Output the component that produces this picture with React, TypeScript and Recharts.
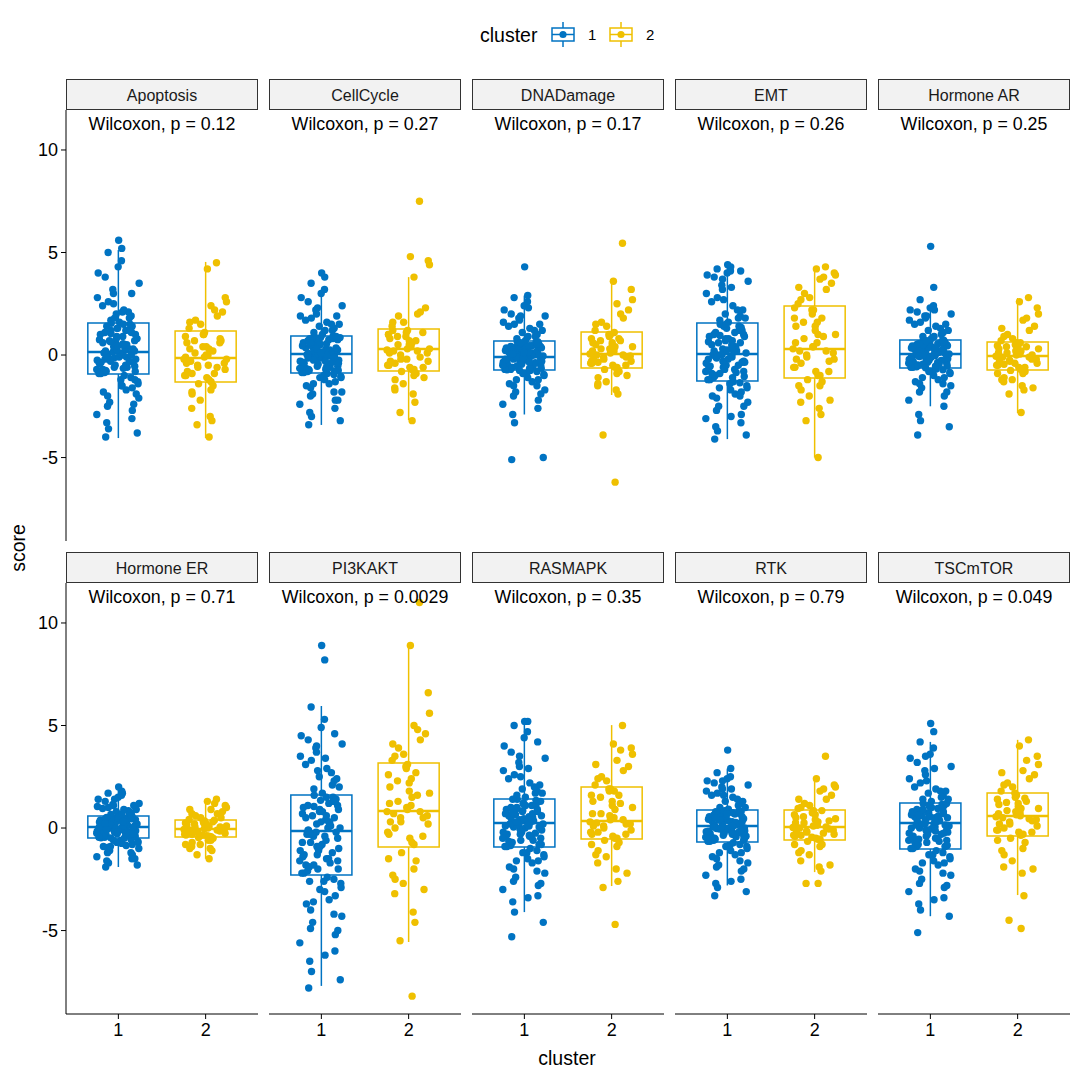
import { ScatterChart, Scatter, XAxis, YAxis, ReferenceArea, ReferenceLine } from "recharts";

const BLUE = "#0073C2";
const GOLD = "#EFC000";
const FONT = "'Liberation Sans', Arial, Helvetica, sans-serif";

const pathways = ["Apoptosis", "CellCycle", "DNADamage", "EMT", "Hormone AR", "Hormone ER", "PI3KAKT", "RASMAPK", "RTK", "TSCmTOR"];
const pValues = ["0.12", "0.27", "0.17", "0.26", "0.25", "0.71", "0.0029", "0.35", "0.79", "0.049"];
const clusters = [1, 2];
const yTicks = [-5, 0, 5, 10];

// [lower whisker, q1, median, q3, upper whisker]
const boxCluster1 = [
  [-4.05, -0.93, 0.15, 1.56, 5.12],
  [-3.41, -0.88, 0.05, 0.93, 3.17],
  [-2.9, -0.73, -0.1, 0.68, 2.9],
  [-4.1, -1.27, 0.05, 1.56, 4.4],
  [-2.5, -0.63, 0.05, 0.73, 2.4],
  [-1.9, -0.49, 0.05, 0.59, 2.0],
  [-7.7, -2.29, -0.15, 1.61, 5.95],
  [-4.1, -0.93, 0.24, 1.41, 5.2],
  [-2.8, -0.68, 0.1, 0.88, 2.9],
  [-4.3, -1.02, 0.24, 1.22, 4.2],
];
const boxCluster2 = [
  [-4.05, -1.32, -0.15, 1.17, 4.54],
  [-3.17, -0.78, 0.29, 1.27, 3.8],
  [-1.95, -0.63, 0.05, 1.12, 3.56],
  [-5.0, -1.12, 0.29, 2.39, 4.3],
  [-2.83, -0.73, -0.05, 0.63, 2.78],
  [-1.5, -0.44, -0.05, 0.39, 1.4],
  [-5.56, -0.93, 0.83, 3.17, 8.88],
  [-2.83, -0.54, 0.34, 2.0, 5.02],
  [-2.15, -0.59, 0.05, 0.88, 2.39],
  [-3.27, -0.39, 0.59, 1.71, 4.3],
];

const apoptosis1 = [-4.0, -3.8, -3.6, -3.3, -3.1, -2.9, -2.7, -2.5, -2.3, -2.1, -2.0, -1.8, -1.7, -1.6, -1.5, -1.4, -1.3, -1.2, -1.1, -1.0,
  -0.9, -0.85, -0.8, -0.75, -0.7, -0.6, -0.55, -0.5, -0.4, -0.35, -0.3, -0.25, -0.2, -0.15, -0.1, -0.05, 0, 0.05, 0.1, 0.15,
  0.2, 0.3, 0.35, 0.4, 0.5, 0.55, 0.6, 0.7, 0.75, 0.8, 0.9, 1.0, 1.05, 1.1, 1.2, 1.25, 1.3, 1.4, 1.5, 1.55,
  1.6, 1.7, 1.8, 1.9, 2.0, 2.1, 2.2, 2.4, 2.6, 2.8, 3.0, 3.2, 3.5, 3.8, 4.0, 4.3, 4.6, 5.0, 5.2, 5.6,
  -0.9, -0.8, -0.7, -0.6, -0.5, -0.4, -0.3, -0.2, -0.1, 0, 0.1, 0.2, 0.3, 0.4, 0.5, 0.6, 0.7, 0.8, 0.9, 1.0,
  1.1, 1.2, 1.3, 1.4, 1.5, -0.65, -0.15, 0.25, 0.65, 1.15, -1.2, -1.5, -1.9, -2.4, 1.8, 2.1, 2.5, 3.0, -0.35, 0.45];
const apoptosis2 = [-4.0, -3.4, -3.2, -3.0, -2.6, -2.2, -1.9, -1.7, -1.5, -1.4, -1.3, -1.1, -1.0, -0.9, -0.7, -0.6, -0.5, -0.4, -0.3, -0.2,
  -0.1, 0.0, 0.1, 0.3, 0.4, 0.6, 0.7, 0.9, 1.0, 1.1, 1.3, 1.5, 1.7, 1.9, 2.1, 2.4, 2.6, 2.8, 4.2, 4.5,
  -1.2, -1.0, -0.8, -0.6, -0.4, -0.2, 0, 0.2, 0.4, 0.6, 0.8, 1.0, -0.9, -0.5, -0.1, 0.3, 0.7, -1.8, 1.6, 2.2];

const cellCycle1 = [-3.4, -3.2, -3.0, -2.8, -2.6, -2.4, -2.2, -2.0, -1.9, -1.8, -1.6, -1.5, -1.4, -1.3, -1.2, -1.1, -1.05, -1.0, -0.95, -0.9,
  -0.85, -0.8, -0.75, -0.7, -0.65, -0.6, -0.55, -0.5, -0.45, -0.4, -0.35, -0.3, -0.25, -0.2, -0.15, -0.1, -0.05, 0, 0.02, 0.05,
  0.08, 0.1, 0.15, 0.2, 0.25, 0.3, 0.35, 0.4, 0.45, 0.5, 0.55, 0.6, 0.65, 0.7, 0.75, 0.8, 0.85, 0.88, 0.9, 0.92,
  1.0, 1.1, 1.2, 1.3, 1.4, 1.5, 1.6, 1.7, 1.8, 1.9, 2.0, 2.2, 2.4, 2.6, 2.8, 3.0, 3.2, 3.5, 3.8, 4.0,
  -0.85, -0.75, -0.65, -0.55, -0.45, -0.35, -0.25, -0.15, -0.05, 0.05, 0.15, 0.25, 0.35, 0.45, 0.55, 0.65, 0.75, 0.85, -0.7, -0.4,
  -0.1, 0.2, 0.5, 0.8, -0.6, 0, 0.6, -1.1, -1.4, -1.8, -2.2, 1.2, 1.5, 1.9, 2.3, -0.3, 0.3, -0.8, 0.9, 0.1];
const cellCycle2 = [-3.2, -2.8, -2.3, -1.9, -1.6, -1.4, -1.2, -1.0, -0.9, -0.8, -0.7, -0.6, -0.5, -0.4, -0.3, -0.2, 0.0, 0.1, 0.2, 0.25,
  0.3, 0.4, 0.5, 0.6, 0.7, 0.8, 0.9, 1.0, 1.1, 1.2, 1.4, 1.6, 1.9, 2.1, 2.3, 3.8, 4.4, 4.6, 4.8, 7.5,
  -0.7, -0.5, -0.3, -0.1, 0.1, 0.3, 0.5, 0.7, 0.9, 1.1, -0.6, -0.2, 0.2, 0.6, 1.0, 1.2, -1.1, -1.7, 1.6, 2.0];

const dnaDamage1 = [-5.1, -5.0, -3.3, -2.9, -2.6, -2.4, -2.2, -2.0, -1.8, -1.7, -1.5, -1.4, -1.3, -1.2, -1.1, -1.0, -0.95, -0.9, -0.8, -0.75,
  -0.72, -0.7, -0.65, -0.6, -0.58, -0.55, -0.5, -0.48, -0.45, -0.4, -0.38, -0.35, -0.3, -0.28, -0.25, -0.2, -0.18, -0.15, -0.12, -0.1,
  -0.08, -0.05, 0, 0.05, 0.08, 0.1, 0.15, 0.2, 0.22, 0.25, 0.3, 0.35, 0.4, 0.42, 0.45, 0.5, 0.55, 0.6, 0.62, 0.66,
  0.7, 0.8, 0.9, 1.0, 1.1, 1.2, 1.3, 1.4, 1.5, 1.6, 1.7, 1.8, 1.9, 2.0, 2.2, 2.4, 2.6, 2.8, 2.9, 4.3,
  -0.7, -0.6, -0.5, -0.4, -0.3, -0.2, -0.1, 0, 0.1, 0.2, 0.3, 0.4, 0.5, 0.6, -0.65, -0.45, -0.25, -0.05, 0.15, 0.35,
  0.55, -0.55, -0.15, 0.25, 0.45, -0.35, 0.05, -0.9, -1.2, -1.5, -1.9, 0.9, 1.2, 1.5, 1.9, 2.3, -0.75, 0.65, -0.02, 0.12];
const dnaDamage2 = [-6.2, -3.9, -1.9, -1.7, -1.5, -1.3, -1.1, -0.9, -0.8, -0.7, -0.6, -0.5, -0.4, -0.35, -0.3, -0.2, -0.1, -0.05, 0, 0.05,
  0.1, 0.2, 0.3, 0.4, 0.5, 0.6, 0.7, 0.8, 0.9, 1.0, 1.2, 1.4, 1.6, 1.8, 2.2, 2.5, 2.7, 3.2, 3.6, 5.45,
  -0.6, -0.4, -0.2, 0, 0.2, 0.4, 0.6, 0.8, 1.0, -0.5, -0.1, 0.3, 0.7, 1.1, -0.3, 0.5, -1.0, -1.4, 1.5, 2.0];

const emt1 = [-4.1, -3.9, -3.7, -3.5, -3.3, -3.1, -2.9, -2.7, -2.5, -2.3, -2.1, -2.0, -1.9, -1.8, -1.7, -1.6, -1.5, -1.4, -1.35, -1.3,
  -1.2, -1.1, -1.05, -1.0, -0.9, -0.85, -0.8, -0.7, -0.6, -0.55, -0.5, -0.4, -0.35, -0.3, -0.2, -0.15, -0.1, -0.05, 0, 0.03,
  0.1, 0.15, 0.2, 0.3, 0.35, 0.4, 0.5, 0.6, 0.65, 0.7, 0.8, 0.9, 0.95, 1.0, 1.1, 1.2, 1.3, 1.35, 1.4, 1.5,
  1.6, 1.7, 1.8, 1.9, 2.0, 2.2, 2.4, 2.6, 2.8, 3.0, 3.2, 3.4, 3.6, 3.8, 3.9, 4.0, 4.1, 4.2, 4.3, 4.4,
  -1.2, -1.0, -0.8, -0.6, -0.4, -0.2, 0, 0.2, 0.4, 0.6, 0.8, 1.0, 1.2, 1.4, -1.1, -0.7, -0.3, 0.1, 0.5, 0.9,
  1.3, -0.9, -0.5, -0.1, 0.3, 0.7, 1.1, 1.5, -1.6, -2.0, -2.5, -3.0, 1.8, 2.2, 2.7, 3.3, 3.7, 4.1, -0.35, 0.25];
const emt2 = [-5.0, -3.2, -2.9, -2.6, -2.3, -2.0, -1.7, -1.5, -1.3, -1.2, -1.0, -0.8, -0.6, -0.4, -0.2, -0.1, 0.0, 0.1, 0.2, 0.3,
  0.4, 0.6, 0.8, 1.0, 1.2, 1.4, 1.6, 1.8, 2.0, 2.2, 2.5, 2.8, 3.0, 3.2, 3.5, 3.7, 3.9, 4.0, 4.2, 4.3,
  -1.0, -0.6, -0.2, 0.2, 0.6, 1.0, 1.4, 1.8, 2.2, -0.8, -0.3, 0.4, 0.9, 1.6, 2.3, -1.5, -2.2, 2.7, 3.3, 3.8];

const hormoneAR1 = [-3.9, -3.5, -3.2, -2.9, -2.5, -2.2, -2.0, -1.8, -1.6, -1.5, -1.4, -1.3, -1.2, -1.1, -1.0, -0.9, -0.85, -0.8, -0.72, -0.68,
  -0.6, -0.57, -0.54, -0.5, -0.47, -0.44, -0.4, -0.36, -0.33, -0.3, -0.26, -0.22, -0.18, -0.15, -0.11, -0.07, -0.03, 0, 0.02, 0.04,
  0.07, 0.1, 0.13, 0.17, 0.2, 0.23, 0.27, 0.3, 0.34, 0.37, 0.4, 0.44, 0.48, 0.51, 0.55, 0.58, 0.62, 0.65, 0.68, 0.71,
  0.8, 0.9, 1.0, 1.1, 1.2, 1.3, 1.4, 1.5, 1.6, 1.7, 1.8, 1.9, 2.0, 2.1, 2.2, 2.3, 2.4, 2.7, 3.3, 5.3,
  -0.6, -0.5, -0.4, -0.3, -0.2, -0.1, 0, 0.1, 0.2, 0.3, 0.4, 0.5, 0.6, 0.7, -0.55, -0.35, -0.15, 0.05, 0.25, 0.45,
  0.65, -0.45, -0.25, -0.05, 0.15, 0.35, 0.55, -0.8, -1.1, -1.4, -1.8, 0.9, 1.2, 1.5, 1.9, 2.2, -0.62, 0.72, 0.08, -0.12];
const hormoneAR2 = [-2.8, -1.9, -1.7, -1.5, -1.3, -1.2, -1.1, -0.9, -0.8, -0.75, -0.7, -0.6, -0.5, -0.45, -0.4, -0.3, -0.25, -0.2, -0.1, -0.06,
  0, 0.05, 0.1, 0.2, 0.25, 0.3, 0.4, 0.45, 0.5, 0.6, 0.7, 0.8, 1.0, 1.2, 1.4, 1.7, 2.0, 2.3, 2.6, 2.8,
  -0.7, -0.5, -0.3, -0.1, 0.1, 0.3, 0.5, -0.6, -0.4, -0.2, 0, 0.2, 0.4, 0.6, -0.9, -1.2, -1.6, 0.9, 1.3, 1.8];

const hormoneER1 = [-1.9, -1.8, -1.7, -1.6, -1.5, -1.4, -1.3, -1.2, -1.1, -1.0, -0.95, -0.9, -0.85, -0.8, -0.75, -0.7, -0.65, -0.6, -0.55, -0.5,
  -0.48, -0.45, -0.42, -0.4, -0.37, -0.34, -0.31, -0.28, -0.25, -0.22, -0.19, -0.16, -0.13, -0.1, -0.07, -0.04, -0.02, 0, 0.02, 0.04,
  0.07, 0.1, 0.12, 0.15, 0.18, 0.2, 0.23, 0.26, 0.29, 0.32, 0.35, 0.38, 0.4, 0.43, 0.46, 0.49, 0.51, 0.54, 0.56, 0.58,
  0.62, 0.66, 0.7, 0.75, 0.8, 0.85, 0.9, 0.95, 1.0, 1.05, 1.1, 1.15, 1.2, 1.3, 1.4, 1.5, 1.6, 1.7, 1.8, 2.0,
  -0.45, -0.35, -0.25, -0.15, -0.05, 0.05, 0.15, 0.25, 0.35, 0.45, 0.55, -0.4, -0.3, -0.2, -0.1, 0, 0.1, 0.2, 0.3, 0.4,
  0.5, -0.48, -0.28, -0.08, 0.12, 0.32, 0.52, -0.7, -0.9, -1.2, -1.5, 0.7, 0.9, 1.1, 1.4, 1.7, -0.6, 0.6, 0.03, -0.18];
const hormoneER2 = [-1.5, -1.3, -1.1, -1.0, -0.9, -0.8, -0.7, -0.6, -0.5, -0.46, -0.42, -0.38, -0.34, -0.3, -0.26, -0.22, -0.18, -0.14, -0.1, -0.07,
  -0.03, 0, 0.04, 0.08, 0.12, 0.16, 0.2, 0.25, 0.3, 0.35, 0.42, 0.5, 0.6, 0.7, 0.8, 0.9, 1.0, 1.1, 1.3, 1.4,
  -0.4, -0.3, -0.2, -0.1, 0, 0.1, 0.2, 0.3, -0.35, -0.15, 0.05, 0.25, 0.38, -0.6, -0.8, -1.0, 0.5, 0.7, 0.9, 1.2];

const pi3kakt1 = [-7.8, -7.4, -7.0, -6.5, -6.0, -5.6, -5.2, -4.9, -4.6, -4.3, -4.0, -3.7, -3.5, -3.3, -3.1, -2.9, -2.7, -2.6, -2.5, -2.4,
  -2.2, -2.1, -2.0, -1.9, -1.8, -1.7, -1.6, -1.5, -1.4, -1.3, -1.2, -1.1, -1.0, -0.9, -0.8, -0.7, -0.6, -0.4, -0.3, -0.2,
  -0.1, 0, 0.1, 0.2, 0.3, 0.4, 0.5, 0.6, 0.7, 0.8, 0.9, 1.0, 1.05, 1.1, 1.2, 1.3, 1.35, 1.4, 1.5, 1.6,
  1.7, 1.9, 2.1, 2.3, 2.5, 2.7, 2.9, 3.1, 3.3, 3.5, 3.7, 3.9, 4.1, 4.3, 4.5, 4.9, 5.3, 5.9, 8.2, 8.9,
  -2.2, -1.9, -1.6, -1.3, -1.0, -0.7, -0.4, -0.1, 0.2, 0.5, 0.8, 1.1, 1.4, -2.0, -1.5, -1.1, -0.5, 0, 0.4, 0.9,
  1.3, -1.8, -0.9, -0.3, 0.6, 1.5, -2.6, -3.0, -3.6, -4.2, -5.0, -6.2, 2.0, 2.4, 2.8, 3.4, 4.0, 4.6, -0.2, 0.3];
const pi3kakt2 = [-8.2, -5.5, -4.6, -4.1, -3.2, -2.7, -2.5, -2.0, -1.6, -1.2, -0.8, -0.5, -0.3, 0, 0.2, 0.3, 0.5, 0.6, 0.7, 0.8,
  0.9, 1.1, 1.3, 1.5, 1.8, 2.0, 2.3, 2.6, 2.9, 3.1, 3.3, 3.6, 3.9, 4.3, 4.6, 5.0, 5.6, 6.6, 8.9, 11.0,
  -0.7, -0.2, 0.3, 0.8, 1.2, 1.7, 2.2, 2.7, 3.0, -0.4, 0.5, 1.0, 1.6, 2.4, -1.5, -2.3, -3.0, 3.5, 4.1, 4.8];

const rasmapk1 = [-5.3, -4.6, -4.1, -3.6, -3.3, -3.0, -2.8, -2.6, -2.4, -2.2, -2.0, -1.9, -1.7, -1.6, -1.5, -1.4, -1.3, -1.2, -1.1, -1.0,
  -0.9, -0.85, -0.8, -0.7, -0.65, -0.6, -0.5, -0.45, -0.4, -0.3, -0.25, -0.2, -0.1, -0.05, 0, 0.05, 0.1, 0.15, 0.2, 0.22,
  0.26, 0.3, 0.35, 0.4, 0.5, 0.55, 0.6, 0.65, 0.7, 0.8, 0.85, 0.9, 0.95, 1.0, 1.1, 1.15, 1.2, 1.3, 1.35, 1.4,
  1.5, 1.6, 1.7, 1.8, 1.9, 2.0, 2.2, 2.4, 2.6, 2.8, 3.0, 3.2, 3.4, 3.7, 4.0, 4.4, 4.7, 5.0, 5.2, 5.2,
  -0.9, -0.7, -0.5, -0.3, -0.1, 0.1, 0.3, 0.5, 0.7, 0.9, 1.1, 1.3, -0.8, -0.6, -0.4, -0.2, 0, 0.2, 0.4, 0.6,
  0.8, 1.0, 1.2, 1.4, -0.35, 0.25, 0.75, -1.2, -1.6, -2.1, -2.7, -3.4, 1.7, 2.1, 2.5, 2.9, 3.5, 4.2, 0.05, 0.45];
const rasmapk2 = [-4.7, -2.9, -2.6, -2.0, -1.7, -1.4, -1.1, -0.9, -0.7, -0.6, -0.5, -0.4, -0.3, -0.2, -0.1, 0, 0.1, 0.2, 0.25, 0.3,
  0.4, 0.5, 0.7, 0.9, 1.1, 1.3, 1.5, 1.6, 1.8, 1.9, 2.1, 2.3, 2.5, 2.8, 3.0, 3.3, 3.6, 3.9, 4.1, 5.0,
  -0.5, -0.2, 0.1, 0.4, 0.7, 1.0, 1.3, 1.6, 1.9, -0.3, 0.2, 0.6, 1.2, 1.8, -0.8, -1.3, -2.2, 2.4, 3.1, 3.8];

const rtk1 = [-3.3, -3.1, -2.9, -2.7, -2.5, -2.3, -2.1, -1.9, -1.8, -1.7, -1.5, -1.4, -1.3, -1.2, -1.1, -1.0, -0.9, -0.85, -0.8, -0.72,
  -0.65, -0.6, -0.55, -0.5, -0.46, -0.42, -0.38, -0.34, -0.3, -0.26, -0.22, -0.18, -0.14, -0.1, -0.06, -0.02, 0.02, 0.05, 0.07, 0.09,
  0.12, 0.15, 0.19, 0.23, 0.27, 0.31, 0.35, 0.39, 0.43, 0.47, 0.51, 0.55, 0.6, 0.64, 0.68, 0.72, 0.76, 0.8, 0.83, 0.86,
  0.92, 1.0, 1.1, 1.2, 1.3, 1.4, 1.5, 1.6, 1.7, 1.8, 1.9, 2.0, 2.1, 2.2, 2.3, 2.4, 2.5, 2.7, 2.9, 3.8,
  -0.65, -0.55, -0.45, -0.35, -0.25, -0.15, -0.05, 0.05, 0.15, 0.25, 0.35, 0.45, 0.55, 0.65, 0.75, 0.85, -0.6, -0.4, -0.2, 0,
  0.2, 0.4, 0.6, 0.8, -0.3, 0.1, 0.5, -0.9, -1.2, -1.6, -2.0, -2.6, 1.0, 1.3, 1.6, 1.9, 2.3, -0.1, 0.3, 0.7];
const rtk2 = [-2.7, -2.7, -2.1, -1.9, -1.6, -1.3, -1.1, -0.9, -0.8, -0.65, -0.55, -0.5, -0.4, -0.35, -0.3, -0.2, -0.15, -0.1, 0, 0.03,
  0.1, 0.15, 0.25, 0.3, 0.4, 0.5, 0.55, 0.65, 0.75, 0.85, 0.95, 1.1, 1.2, 1.4, 1.6, 1.8, 2.0, 2.1, 2.4, 3.5,
  -0.55, -0.35, -0.15, 0.05, 0.25, 0.45, 0.65, 0.85, -0.45, -0.05, 0.35, 0.75, -0.25, 0.15, -0.8, -1.2, -1.8, 1.0, 1.4, 1.9];

const tscmtor1 = [-5.1, -4.3, -4.0, -3.7, -3.4, -3.1, -2.9, -2.7, -2.5, -2.3, -2.1, -2.0, -1.8, -1.7, -1.6, -1.5, -1.4, -1.3, -1.2, -1.1,
  -1.0, -0.9, -0.85, -0.8, -0.7, -0.65, -0.6, -0.5, -0.45, -0.4, -0.3, -0.25, -0.2, -0.1, -0.05, 0, 0.05, 0.1, 0.15, 0.2,
  0.28, 0.32, 0.36, 0.4, 0.45, 0.5, 0.55, 0.6, 0.65, 0.7, 0.75, 0.8, 0.85, 0.9, 0.95, 1.0, 1.05, 1.1, 1.15, 1.2,
  1.3, 1.4, 1.5, 1.6, 1.7, 1.8, 1.9, 2.0, 2.2, 2.4, 2.6, 2.8, 3.0, 3.2, 3.4, 3.6, 3.9, 4.2, 4.7, 5.1,
  -1.0, -0.8, -0.6, -0.4, -0.2, 0, 0.2, 0.4, 0.6, 0.8, 1.0, 1.2, -0.9, -0.7, -0.5, -0.3, -0.1, 0.1, 0.3, 0.5,
  0.7, 0.9, 1.1, -0.55, -0.15, 0.35, 0.65, -1.3, -1.7, -2.2, -2.8, -3.5, 1.4, 1.8, 2.3, 2.9, 3.5, -0.25, 0.15, 0.55];
const tscmtor2 = [-4.9, -4.5, -3.3, -2.2, -1.9, -1.6, -1.3, -1.0, -0.7, -0.5, -0.3, -0.2, -0.1, 0, 0.1, 0.2, 0.3, 0.4, 0.5, 0.55,
  0.65, 0.75, 0.85, 0.95, 1.05, 1.15, 1.25, 1.4, 1.5, 1.6, 1.8, 2.0, 2.2, 2.4, 2.6, 2.8, 3.1, 3.5, 4.0, 4.3,
  -0.35, -0.1, 0.2, 0.45, 0.7, 0.95, 1.2, 1.45, 1.7, -0.2, 0.35, 0.8, 1.3, 0.6, -0.6, -1.1, -2.0, 2.1, 2.7, 3.3];

const scores = [
  [apoptosis1, apoptosis2],
  [cellCycle1, cellCycle2],
  [dnaDamage1, dnaDamage2],
  [emt1, emt2],
  [hormoneAR1, hormoneAR2],
  [hormoneER1, hormoneER2],
  [pi3kakt1, pi3kakt2],
  [rasmapk1, rasmapk2],
  [rtk1, rtk2],
  [tscmtor1, tscmtor2],
];

const PANEL_W = 192;
const GAP = 11;
const LEFT = 66;
const ROW_TOP = [110, 583];
const STRIP_TOP = [79, 552];
const PLOT_H = 431;
const BOX_HALF = 0.35;

// sideways spread like geom_jitter, but deterministic (quadratic Weyl sequence)
const jitter = (i: number, phase: number) => {
  const f = (0.5 * i * i * 0.6180339887 + i * 0.4142 + phase) % 1;
  return (f - 0.5) * 0.5;
};

function Panel({ index }: { index: number }) {
  const row = Math.floor(index / 5);
  const col = index % 5;
  const left = LEFT + col * (PANEL_W + GAP);
  const showY = col === 0;
  const showX = row === 1;
  const yW = showY ? LEFT : 0;
  const boxes = [boxCluster1[index], boxCluster2[index]];
  const colors = [BLUE, GOLD];

  return (
    <div style={{ position: "absolute", left: left - yW, top: ROW_TOP[row] }}>
      <ScatterChart width={PANEL_W + yW} height={PLOT_H + (showX ? 40 : 0)} margin={{ top: 0, right: 0, bottom: 0, left: 0 }}>
        <XAxis
          type="number"
          dataKey="x"
          domain={[0.4, 2.6]}
          ticks={[1, 2]}
          allowDataOverflow
          hide={!showX}
          height={40}
          tickSize={5}
          tickMargin={4}
          stroke="#000"
          tick={{ fill: "#000", fontSize: 18, fontFamily: FONT }}
        />
        <YAxis
          type="number"
          dataKey="y"
          domain={[-9.07, 11.95]}
          ticks={yTicks}
          allowDataOverflow
          hide={!showY}
          width={LEFT}
          tickSize={5}
          tickMargin={3}
          stroke="#000"
          tick={{ fill: "#000", fontSize: 18, fontFamily: FONT }}
        />
        {clusters.map((c, k) => {
          const [lo, q1, med, q3, hi] = boxes[k];
          const color = colors[k];
          return [
            <ReferenceLine key={`wl${k}`} segment={[{ x: c, y: lo }, { x: c, y: q1 }]} stroke={color} strokeWidth={1.5} />,
            <ReferenceLine key={`wh${k}`} segment={[{ x: c, y: q3 }, { x: c, y: hi }]} stroke={color} strokeWidth={1.5} />,
            <ReferenceArea key={`b${k}`} x1={c - BOX_HALF} x2={c + BOX_HALF} y1={q1} y2={q3} fill="none" stroke={color} strokeWidth={1.5} fillOpacity={0} strokeOpacity={1} />,
            <ReferenceLine key={`m${k}`} segment={[{ x: c - BOX_HALF, y: med }, { x: c + BOX_HALF, y: med }]} stroke={color} strokeWidth={2.5} />,
          ];
        })}
        {clusters.map((c, k) => (
          <Scatter
            key={`s${k}`}
            data={scores[index][k].map((v, i) => ({ x: c + jitter(i, 0.21 + k * 0.37), y: v }))}
            isAnimationActive={false}
            shape={(p: any) => <circle cx={p.cx} cy={p.cy} r={3.7} fill={colors[k]} />}
          />
        ))}
      </ScatterChart>
      <div style={{ position: "absolute", left: yW, top: 4, width: PANEL_W, textAlign: "center", fontSize: 17.8, lineHeight: "20px", color: "#000", pointerEvents: "none" }}>
        Wilcoxon, p = {pValues[index]}
      </div>
    </div>
  );
}

function Strip({ index }: { index: number }) {
  const row = Math.floor(index / 5);
  const col = index % 5;
  return (
    <div
      style={{
        position: "absolute",
        left: LEFT + col * (PANEL_W + GAP),
        top: STRIP_TOP[row],
        width: PANEL_W,
        height: 31,
        boxSizing: "border-box",
        border: "1px solid #333",
        background: "#F2F2F2",
        fontSize: 16,
        lineHeight: "32px",
        textAlign: "center",
        color: "#1a1a1a",
      }}
    >
      {pathways[index]}
    </div>
  );
}

function LegendKey({ color, x }: { color: string; x: number }) {
  return (
    <svg style={{ position: "absolute", left: x, top: 22 }} width={24} height={25}>
      <line x1={12} y1={0} x2={12} y2={25} stroke={color} strokeWidth={1.5} />
      <rect x={1} y={6} width={22} height={13} fill="#fff" stroke={color} strokeWidth={1.5} />
      <line x1={1} y1={12.5} x2={23} y2={12.5} stroke={color} strokeWidth={1.5} />
      <circle cx={12} cy={12.5} r={3.6} fill={color} />
    </svg>
  );
}

export default function App() {
  return (
    <div style={{ position: "absolute", left: 0, top: 0, width: 1080, height: 1080, background: "#fff", fontFamily: FONT, overflow: "hidden" }}>
      <div style={{ position: "absolute", left: 480, top: 23, fontSize: 19.5, lineHeight: "24px" }}>cluster</div>
      <LegendKey color={BLUE} x={551} />
      <div style={{ position: "absolute", left: 588, top: 26, fontSize: 15, lineHeight: "18px" }}>1</div>
      <LegendKey color={GOLD} x={609} />
      <div style={{ position: "absolute", left: 646, top: 26, fontSize: 15, lineHeight: "18px" }}>2</div>

      {pathways.map((_, i) => (
        <Strip key={`st${i}`} index={i} />
      ))}
      {pathways.map((_, i) => (
        <Panel key={`p${i}`} index={i} />
      ))}

      <div style={{ position: "absolute", left: 18, top: 548, transform: "translate(-50%, -50%) rotate(-90deg)", fontSize: 19.5 }}>score</div>
      <div style={{ position: "absolute", left: 567, top: 1058, transform: "translate(-50%, -50%)", fontSize: 19.5 }}>cluster</div>
    </div>
  );
}
